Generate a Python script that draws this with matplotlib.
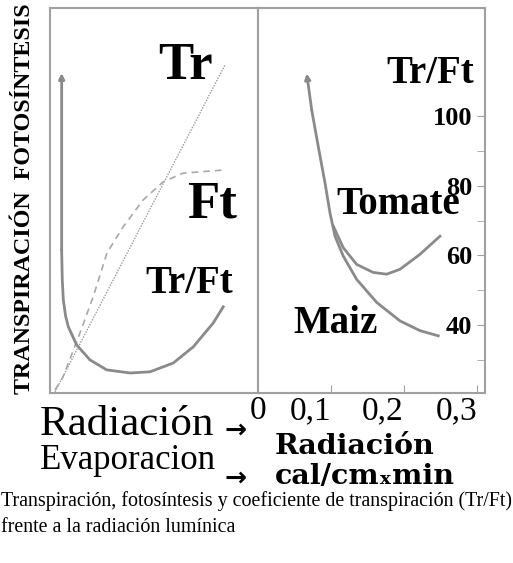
import numpy as np
import matplotlib.pyplot as plt

# left panel (relative units, no scale in the original)
tr_x = [0.024, 0.841]
tr_y = [0.003, 0.852]
ft_x = [0.024, 0.063, 0.144, 0.207, 0.274, 0.351, 0.447, 0.543, 0.639, 0.832]
ft_y = [0.008, 0.042, 0.156, 0.249, 0.364, 0.431, 0.501, 0.548, 0.571, 0.579]
ratio_x = [0.056, 0.056, 0.059, 0.064, 0.075, 0.088, 0.128, 0.192, 0.273,
           0.385, 0.481, 0.593, 0.689, 0.785, 0.833]
ratio_y = [0.831, 0.371, 0.294, 0.242, 0.200, 0.172, 0.125, 0.086, 0.060,
           0.052, 0.055, 0.078, 0.120, 0.182, 0.224]

# right panel: Tr/Ft vs radiation (cal/cm2 min)
maiz_x = [0.0667, 0.0736, 0.0826, 0.0918, 0.0986, 0.1055, 0.1168, 0.1352,
          0.1626, 0.1945, 0.2219, 0.2470]
maiz_y = [112.2, 101.7, 91.2, 80.8, 72.2, 65.5, 59.8, 53.1, 46.5, 41.2, 38.4, 36.9]
tomate_x = [0.1032, 0.1168, 0.1352, 0.1579, 0.1763, 0.1945, 0.2219, 0.2493]
tomate_y = [68.4, 62.2, 57.4, 55.1, 54.6, 56.0, 60.3, 65.5]

xticks = [0, 0.1, 0.2, 0.3]
xticklabels = ['0', '0,1', '0,2', '0,3']
yticks = [40, 60, 80, 100]
yticklabels = ['40', '60', '80', '100']
yminor = [30, 50, 70, 90]

edge = '#a0a0a0'
curve = '#8a8a8a'
serif = 'Liberation Serif'

fig = plt.figure(figsize=(5.13, 5.63), dpi=100)
W, H = 513, 563

axl = fig.add_axes([50 / W, 1 - 393 / H, 208 / W, 385 / H])
axr = fig.add_axes([258 / W, 1 - 393 / H, 227 / W, 385 / H])

for ax in (axl, axr):
    for s in ax.spines.values():
        s.set_color(edge)
        s.set_linewidth(1.5)

# left panel
axl.set_xlim(0, 1)
axl.set_ylim(0, 1)
axl.set_xticks([])
axl.set_yticks([])
axl.plot(tr_x, tr_y, color='#9a9a9a', lw=1, ls=(0, (1, 1)))
axl.plot(ft_x, ft_y, color='#a8a8a8', lw=1.2, ls=(0, (4, 3)))
axl.plot(ratio_x[1:], ratio_y[1:], color=curve, lw=2, solid_joinstyle='round')
axl.annotate('', xy=(ratio_x[0], ratio_y[0]), xytext=(ratio_x[1], ratio_y[1]),
             arrowprops=dict(arrowstyle='-|>', color=curve, lw=2,
                             mutation_scale=8, shrinkA=0, shrinkB=0))
axl.text(0.65, 0.85, 'Tr', fontsize=38, fontweight='bold', family=serif,
         ha='center', va='center', transform=axl.transAxes)
axl.text(0.78, 0.49, 'Ft', fontsize=38, fontweight='bold', family=serif,
         ha='center', va='center', transform=axl.transAxes)
axl.text(0.67, 0.285, 'Tr/Ft', fontsize=28, fontweight='bold', family=serif,
         ha='center', va='center', transform=axl.transAxes)

# right panel
axr.set_xlim(0, 0.311)
axr.set_ylim(20.5, 131)
axr.plot(maiz_x[1:], maiz_y[1:], color=curve, lw=2, solid_joinstyle='round')
axr.annotate('', xy=(maiz_x[0], maiz_y[0]), xytext=(maiz_x[1], maiz_y[1]),
             arrowprops=dict(arrowstyle='-|>', color=curve, lw=2,
                             mutation_scale=8, shrinkA=0, shrinkB=0))
axr.plot(tomate_x, tomate_y, color=curve, lw=2, solid_joinstyle='round')

axr.set_xticks(xticks, xticklabels, fontsize=24, family=serif)
axr.tick_params(axis='x', direction='in', length=6, color=edge, pad=2)
for lab, ha in zip(axr.get_xticklabels(), ['center', 'right', 'right', 'right']):
    lab.set_horizontalalignment(ha)
axr.yaxis.tick_right()
axr.set_yticks(yticks, yticklabels, fontsize=19, fontweight='bold',
               family=serif, ha='right')
axr.set_yticks(yminor, minor=True)
axr.tick_params(axis='y', which='both', direction='in', length=6, color=edge,
                pad=-9)

axr.text(0.76, 0.83, 'Tr/Ft', fontsize=28, fontweight='bold', family=serif,
         ha='center', va='center', transform=axr.transAxes)
axr.text(0.62, 0.49, 'Tomate', fontsize=28, fontweight='bold', family=serif,
         ha='center', va='center', transform=axr.transAxes)
axr.text(0.34, 0.18, 'Maiz', fontsize=28, fontweight='bold', family=serif,
         ha='center', va='center', transform=axr.transAxes)

# y label
fig.text(25 / W, 1 - 199 / H, 'TRANSPIRACIÓN  FOTOSÍNTESIS', rotation=90,
         fontsize=17.3, fontweight='bold', family=serif, ha='center', va='center')

# lower legend texts
fig.text(40 / W, 1 - 435 / H, 'Radiación', fontsize=31, family=serif,
         ha='left', va='baseline')
fig.text(40 / W, 1 - 469 / H, 'Evaporacion', fontsize=25, family=serif,
         ha='left', va='baseline')
fig.text(236 / W, 1 - 438 / H, '→', fontsize=19, fontweight='bold',
         family='DejaVu Sans', ha='center', va='baseline')
fig.text(236 / W, 1 - 486 / H, '→', fontsize=19, fontweight='bold',
         family='DejaVu Sans', ha='center', va='baseline')
fig.text(355 / W, 1 - 447 / H, 'Radiación', fontsize=20.5, fontweight='bold',
         family='DejaVu Serif', ha='center', va='center')
fig.text(365 / W, 1 - 476 / H, 'cal/cm\u2093min', fontsize=20.5,
         fontweight='bold', family=['DejaVu Serif', 'DejaVu Sans'],
         ha='center', va='center')

fig.text(1 / W, 1 - 501 / H,
         'Transpiración, fotosíntesis y coeficiente de transpiración (Tr/Ft)',
         fontsize=14.4, family=serif, ha='left', va='center')
fig.text(1 / W, 1 - 528 / H, 'frente a la radiación lumínica',
         fontsize=14.4, family=serif, ha='left', va='center')

fig.savefig('out.png', dpi=100)
